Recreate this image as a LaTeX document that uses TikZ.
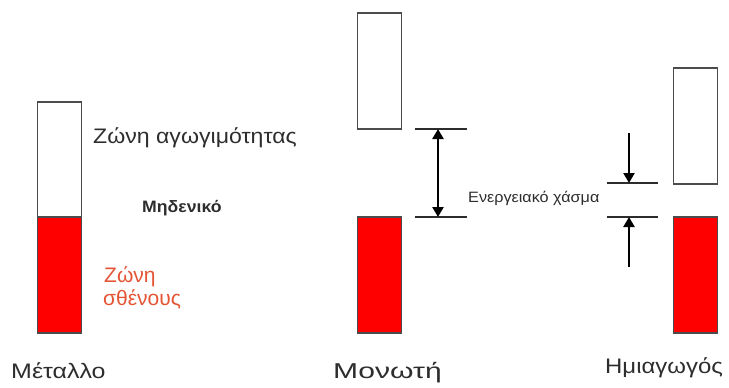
\documentclass[tikz,border=0pt]{standalone}
\usepackage{fontspec}
\usepackage{graphicx}
\setmainfont{Liberation Sans}
\usetikzlibrary{arrows.meta}
\definecolor{bandred}{RGB}{255,0,0}
\definecolor{valtext}{RGB}{228,84,52}
\definecolor{ink}{RGB}{45,45,45}
% horizontally widened text: \wide{factor}{text}
\newcommand{\wide}[2]{\scalebox{#1}[1]{#2}}
\begin{document}
\begin{tikzpicture}[x=1pt,y=-1pt,
  band/.style={draw=ink!85, line width=1.4pt, rectangle, inner sep=0pt,
    minimum width=44pt},
  empty/.style={band, fill=white},
  filled/.style={band, fill=bandred},
  level/.style={draw=ink, line width=1.3pt},
  gaparrow/.style={draw=black, line width=2.6pt,
    -{Triangle[length=10pt,width=11pt]}},
  lbl/.style={text=ink, inner sep=0pt, anchor=base west},
  big/.style={lbl, font=\fontsize{21}{24}\selectfont}]
\useasboundingbox (0,0) rectangle (729,388);

% Metal: conduction band touching the valence band
\node[empty,  minimum height=115pt] (mc) at (59.5,159.5) {};
\node[filled, minimum height=116pt] (mv) at (59.5,275) {};
\node[big] (tc) at (93,143) {\wide{1.1}{Ζώνη αγωγιμότητας}};
\node[lbl, font=\fontsize{16.5}{19}\selectfont\bfseries] (tz) at (142,212) {\wide{1.07}{Μηδενικό}};
\node[big, text=valtext] (tv1) at (104,282) {Ζώνη};
\node[big, text=valtext] (tv2) at (103,305) {σθένους};
\node[big] (nm) at (11,378) {\wide{1.19}{Μέταλλο}};

% Insulator: wide energy gap
\node[empty,  minimum height=116pt] (ic) at (379.5,71) {};
\node[filled, minimum height=116pt] (iv) at (379.5,275) {};
\coordinate (ila) at (415,129);  \coordinate (ilb) at (467,129);
\coordinate (ima) at (415,217);  \coordinate (imb) at (467,217);
\draw[level] (ila) -- (ilb);
\draw[level] (ima) -- (imb);
\coordinate (iat) at (438,129);  \coordinate (iab) at (438,217);
\draw[gaparrow, {Triangle[length=10pt,width=11pt]}-{Triangle[length=10pt,width=11pt]}]
  (iat) -- (iab);
\node[lbl, font=\fontsize{15}{18}\selectfont] (tg) at (468,202) {\wide{1.08}{Ενεργειακό χάσμα}};
\node[lbl, font=\fontsize{21.5}{24}\selectfont] (ni) at (333,378) {\wide{1.4}{Μονωτή}};

% Semiconductor: narrow energy gap
\node[empty,  minimum height=116pt] (sc) at (695.5,126) {};
\node[filled, minimum height=116pt] (sv) at (695.5,275) {};
\coordinate (sla) at (607,183);  \coordinate (slb) at (658,183);
\coordinate (sma) at (607,217);  \coordinate (smb) at (658,217);
\draw[level] (sla) -- (slb);
\draw[level] (sma) -- (smb);
\coordinate (sdt) at (629,133);  \coordinate (sdb) at (629,183);
\coordinate (sut) at (629,267);  \coordinate (sub) at (629,217);
\draw[gaparrow, line width=2.3pt] (sdt) -- (sdb);
\draw[gaparrow, line width=2.3pt] (sut) -- (sub);
\node[big] (ns) at (605,373) {\wide{1.14}{Ημιαγωγός}};
\end{tikzpicture}
\end{document}
